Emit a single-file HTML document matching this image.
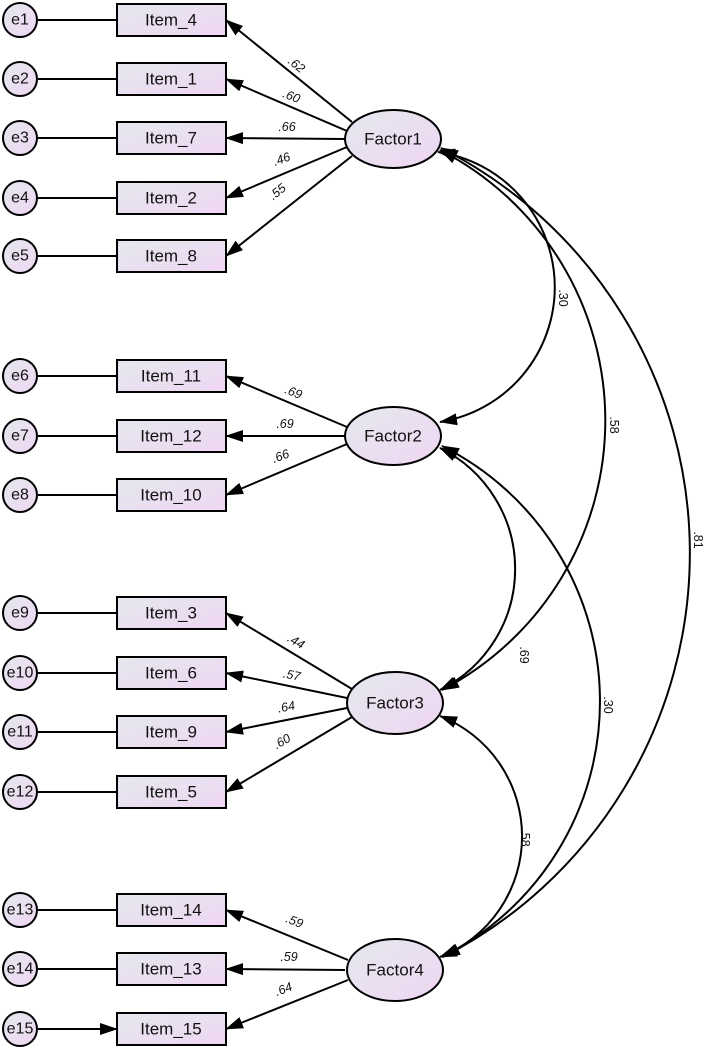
<!DOCTYPE html>
<html><head><meta charset="utf-8"><style>
html,body{margin:0;padding:0;background:#fff;}
svg{display:block;}
text{font-family:"Liberation Sans",Arial,sans-serif;fill:#111;}
.n{font-size:17px;text-anchor:middle;dominant-baseline:central;}
.e{font-size:16px;text-anchor:middle;dominant-baseline:central;}
.l{font-size:12.5px;text-anchor:middle;font-style:italic;fill:#333;}
</style></head><body>
<svg width="708" height="1049" viewBox="0 0 708 1049" xmlns="http://www.w3.org/2000/svg">
<defs>
<linearGradient id="g" x1="0" y1="0" x2="1" y2="1">
<stop offset="0" stop-color="#e4e8ee"/><stop offset="1" stop-color="#efd6f2"/>
</linearGradient>
<marker id="a" markerUnits="userSpaceOnUse" markerWidth="18" markerHeight="14" refX="17" refY="6" orient="auto-start-reverse" viewBox="0 0 18 12">
<path d="M0,0 L18,6 L0,12 Z" fill="#000"/>
</marker>
</defs>
<g stroke="#000" stroke-width="2" fill="none">
<!-- error arrows -->
<path d="M38,20H117M38,79H117M38,138H117M38,198H117M38,256H117M38,376H117M38,436H117M38,495H117M38,613H117M38,673H117M38,732H117M38,792H117M38,910H117M38,969H117M38,1029H117" marker-end="url(#a)"/>
<!-- loadings -->
<line x1="352" y1="122" x2="226" y2="20" marker-end="url(#a)"/>
<line x1="347" y1="131" x2="226" y2="79" marker-end="url(#a)"/>
<line x1="345" y1="139" x2="226" y2="138" marker-end="url(#a)"/>
<line x1="347" y1="147" x2="226" y2="198" marker-end="url(#a)"/>
<line x1="352" y1="156" x2="226" y2="256" marker-end="url(#a)"/>
<line x1="347" y1="427" x2="226" y2="376" marker-end="url(#a)"/>
<line x1="345" y1="436" x2="226" y2="436" marker-end="url(#a)"/>
<line x1="347" y1="444" x2="226" y2="495" marker-end="url(#a)"/>
<line x1="352" y1="689" x2="226" y2="613" marker-end="url(#a)"/>
<line x1="347" y1="698" x2="226" y2="673" marker-end="url(#a)"/>
<line x1="347" y1="708" x2="226" y2="732" marker-end="url(#a)"/>
<line x1="352" y1="717" x2="226" y2="792" marker-end="url(#a)"/>
<line x1="348" y1="960" x2="226" y2="910" marker-end="url(#a)"/>
<line x1="345" y1="970" x2="226" y2="969" marker-end="url(#a)"/>
<line x1="348" y1="980" x2="226" y2="1029" marker-end="url(#a)"/>
<!-- covariances -->
<path d="M438,152 A136.6,136.6 0 0 1 440,422" marker-start="url(#a)" marker-end="url(#a)"/>
<path d="M440,150 A304,304 0 0 1 442,690" marker-start="url(#a)" marker-end="url(#a)"/>
<path d="M441,148 A454,454 0 0 1 443,957" marker-start="url(#a)" marker-end="url(#a)"/>
<path d="M440,448 A135,135 0 0 1 440,690" marker-start="url(#a)" marker-end="url(#a)"/>
<path d="M442,446 A285.6,285.6 0 0 1 442,957" marker-start="url(#a)" marker-end="url(#a)"/>
<path d="M440,716 A129.5,129.5 0 0 1 440,957" marker-start="url(#a)" marker-end="url(#a)"/>
</g>
<!-- error circles -->
<g stroke="#000" stroke-width="2" fill="url(#g)">
<circle cx="20" cy="20" r="17"/><circle cx="20" cy="79" r="17"/><circle cx="20" cy="138" r="17"/><circle cx="20" cy="198" r="17"/><circle cx="20" cy="256" r="17"/>
<circle cx="20" cy="376" r="17"/><circle cx="20" cy="436" r="17"/><circle cx="20" cy="495" r="17"/>
<circle cx="20" cy="613" r="17"/><circle cx="20" cy="673" r="17"/><circle cx="20" cy="732" r="17"/><circle cx="20" cy="792" r="17"/>
<circle cx="20" cy="910" r="17"/><circle cx="20" cy="969" r="17"/><circle cx="20" cy="1029" r="17"/>
</g>
<g stroke="#000" stroke-width="2" fill="url(#g)">
<rect x="117" y="4" width="109" height="32"/><rect x="117" y="63" width="109" height="32"/><rect x="117" y="122" width="109" height="32"/><rect x="117" y="182" width="109" height="32"/><rect x="117" y="240" width="109" height="32"/>
<rect x="117" y="360" width="109" height="32"/><rect x="117" y="420" width="109" height="32"/><rect x="117" y="479" width="109" height="32"/>
<rect x="117" y="597" width="109" height="32"/><rect x="117" y="657" width="109" height="32"/><rect x="117" y="716" width="109" height="32"/><rect x="117" y="776" width="109" height="32"/>
<rect x="117" y="894" width="109" height="32"/><rect x="117" y="953" width="109" height="32"/><rect x="117" y="1013" width="109" height="32"/>
<ellipse cx="393" cy="139" rx="48" ry="29"/>
<ellipse cx="393" cy="436" rx="48" ry="29"/>
<ellipse cx="395" cy="703" rx="48" ry="31"/>
<ellipse cx="395" cy="970" rx="48" ry="31"/>
</g>
<g class="e">
<text x="20" y="20">e1</text><text x="20" y="79">e2</text><text x="20" y="138">e3</text><text x="20" y="198">e4</text><text x="20" y="256">e5</text>
<text x="20" y="376">e6</text><text x="20" y="436">e7</text><text x="20" y="495">e8</text>
<text x="20" y="613">e9</text><text x="20" y="673">e10</text><text x="20" y="732">e11</text><text x="20" y="792">e12</text>
<text x="20" y="910">e13</text><text x="20" y="969">e14</text><text x="20" y="1029">e15</text>
</g>
<g class="n">
<text x="171" y="20">Item_4</text><text x="171" y="79">Item_1</text><text x="171" y="138">Item_7</text><text x="171" y="198">Item_2</text><text x="171" y="256">Item_8</text>
<text x="171" y="376">Item_11</text><text x="171" y="436">Item_12</text><text x="171" y="495">Item_10</text>
<text x="171" y="613">Item_3</text><text x="171" y="673">Item_6</text><text x="171" y="732">Item_9</text><text x="171" y="792">Item_5</text>
<text x="171" y="910">Item_14</text><text x="171" y="969">Item_13</text><text x="171" y="1029">Item_15</text>
<text x="393" y="139">Factor1</text><text x="393" y="436">Factor2</text><text x="395" y="703">Factor3</text><text x="395" y="970">Factor4</text>
</g>
<g class="l">
<text transform="translate(294,68) rotate(38)">.62</text>
<text transform="translate(290,100) rotate(21)">.60</text>
<text transform="translate(287,131)">.66</text>
<text transform="translate(283,163) rotate(-20)">.46</text>
<text transform="translate(280,195) rotate(-38)">.55</text>
<text transform="translate(292,396) rotate(21)">.69</text>
<text transform="translate(285,428)">.69</text>
<text transform="translate(282,460) rotate(-21)">.66</text>
<text transform="translate(294,645) rotate(30)">.44</text>
<text transform="translate(291,679) rotate(11)">.57</text>
<text transform="translate(287,711) rotate(-11)">.64</text>
<text transform="translate(284,745) rotate(-30)">.60</text>
<text transform="translate(293,925) rotate(21)">.59</text>
<text transform="translate(289,961)">.59</text>
<text transform="translate(285,993) rotate(-21)">.64</text>
</g>
<g class="l" style="font-style:normal">
<text transform="translate(559,298) rotate(90)">.30</text>
<text transform="translate(610,425) rotate(90)">.58</text>
<text transform="translate(694,540) rotate(90)">.81</text>
<text transform="translate(520,655) rotate(90)">.69</text>
<text transform="translate(604,705) rotate(90)">.30</text>
<text transform="translate(521,838) rotate(90)">.58</text>
</g>
</svg>
</body></html>
